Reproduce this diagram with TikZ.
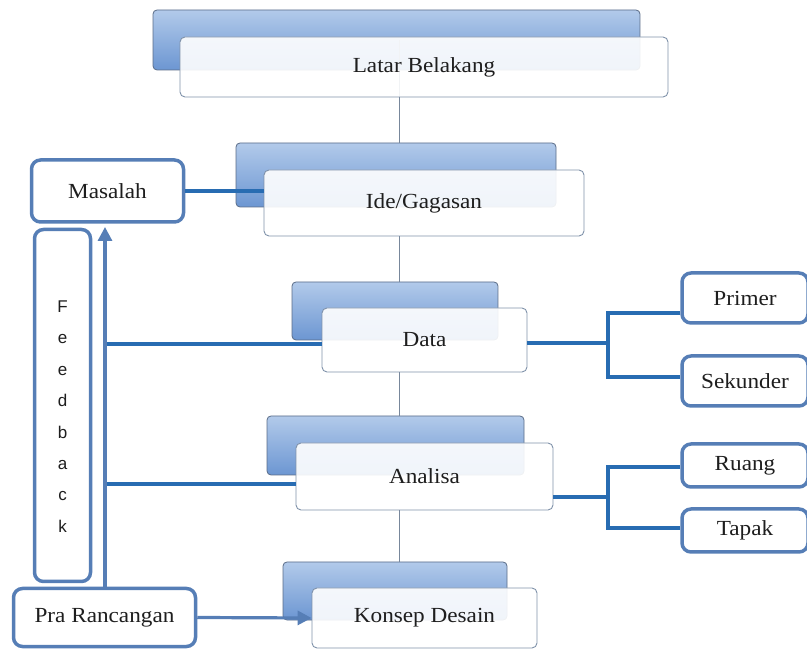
\documentclass[tikz,border=0pt]{standalone}
\usepackage{fontspec}
\setmainfont{Liberation Serif}[FakeStretch=1.08]
\newfontfamily\fbfont{Liberation Sans}
\usetikzlibrary{arrows.meta}
\definecolor{blineC}{RGB}{40,108,178}
\definecolor{sideC}{RGB}{86,126,182}
\definecolor{frontC}{RGB}{128,146,170}
\definecolor{backTop}{RGB}{178,202,234}
\definecolor{backBot}{RGB}{108,150,210}
\definecolor{backC}{RGB}{90,108,135}
\definecolor{thinC}{RGB}{120,135,155}
\definecolor{txtC}{RGB}{30,30,30}
\tikzset{
  every node/.style={text=txtC},
  backbox/.style={draw=backC, line width=0.8pt, rounded corners=4pt, top color=backTop, bottom color=backBot, minimum width=#1, inner sep=0pt},
  frontbox/.style={draw=frontC, line width=0.9pt, rounded corners=5pt, fill=white, fill opacity=0.9, text opacity=1, minimum width=#1, inner sep=0pt, font=\fontsize{21.5}{24}\selectfont},
  sidebox/.style={draw=sideC, line width=3.5pt, rounded corners=9pt, fill=white, minimum width=#1, inner sep=0pt, font=\fontsize{21.5}{24}\selectfont},
  bline/.style={draw=blineC, line width=4pt},
  thinline/.style={draw=thinC, line width=0.9pt},
  arrline/.style={draw=sideC, line width=3.2pt, -{Triangle[length=14pt,width=14pt]}},
  fbtext/.style={font=\fbfont\fontsize{17}{31.4}\selectfont, align=center, text=txtC},
}
\begin{document}
\begin{tikzpicture}[x=1pt,y=-1pt]
\useasboundingbox (0,0) rectangle (807,652);
% back boxes
\node[backbox=487pt, minimum height=60pt] (latb) at (396.5,40) {};
\node[backbox=320pt, minimum height=64pt] (ideb) at (396,175) {};
\node[backbox=206pt, minimum height=58pt] (datab) at (395,311) {};
\node[backbox=257pt, minimum height=59pt] (anab) at (395.5,445.5) {};
\node[backbox=224pt, minimum height=58pt] (konb) at (395,591) {};
% spine connectors
\coordinate (spx) at (399,0);
\draw[thinline] (spx |- latb.center) -- (spx |- ideb.north);
\draw[thinline] (spx |- 0,236) -- (spx |- datab.north);
\draw[thinline] (spx |- 0,372) -- (spx |- anab.north);
\draw[thinline] (spx |- 0,510) -- (spx |- konb.north);
% front boxes
\node[frontbox=488pt, minimum height=60pt] (latf) at (424,67) {Latar Belakang};
\node[frontbox=320pt, minimum height=66pt] (idef) at (424,203) {Ide/Gagasan};
\node[frontbox=205pt, minimum height=64pt] (dataf) at (424.5,340) {Data};
\node[frontbox=257pt, minimum height=67pt] (anaf) at (424.5,476.5) {Analisa};
\node[frontbox=225pt, minimum height=60pt] (konf) at (424.5,618) {Konsep Desain};
% side boxes
\node[sidebox=152pt, minimum height=62pt] (masalah) at (107.5,191) {Masalah};
\node[sidebox=56pt, minimum height=352pt, label={[fbtext, yshift=-11pt]center:{F\\e\\e\\d\\b\\a\\c\\k}}] (feedback) at (62.5,405.5) {};
\node[sidebox=182pt, minimum height=58pt] (pra) at (104.5,617.5) {Pra Rancangan};
\node[sidebox=126pt, minimum height=50pt] (primer) at (745,298) {Primer};
\node[sidebox=126pt, minimum height=50pt] (sekunder) at (745,381) {Sekunder};
\node[sidebox=126pt, minimum height=43pt] (ruang) at (745,465.5) {Ruang};
\node[sidebox=126pt, minimum height=43pt] (tapak) at (745,530.5) {Tapak};
% connectors
\draw[bline] (masalah.east) -- (masalah.east -| idef.west);
\coordinate (bj1) at (608,343);
\coordinate (bj2) at (608,497);
\draw[bline] (dataf.east |- bj1) -- (bj1);
\draw[bline] (primer.west |- 0,313) -| (bj1) |- (sekunder.west |- 0,377);
\draw[bline] (anaf.east |- bj2) -- (bj2);
\draw[bline] (ruang.west |- 0,467) -| (bj2) |- (tapak.west |- 0,528);
\coordinate (fbx) at (105,0);
\draw[bline] (fbx |- 0,344) -- (dataf.west |- 0,344);
\draw[bline] (fbx |- 0,484) -- (anaf.west |- 0,484);
\draw[arrline] (fbx |- pra.north) -- (fbx |- 0,227);
\draw[arrline] (pra.east) -- (konf.west);
\end{tikzpicture}
\end{document}
